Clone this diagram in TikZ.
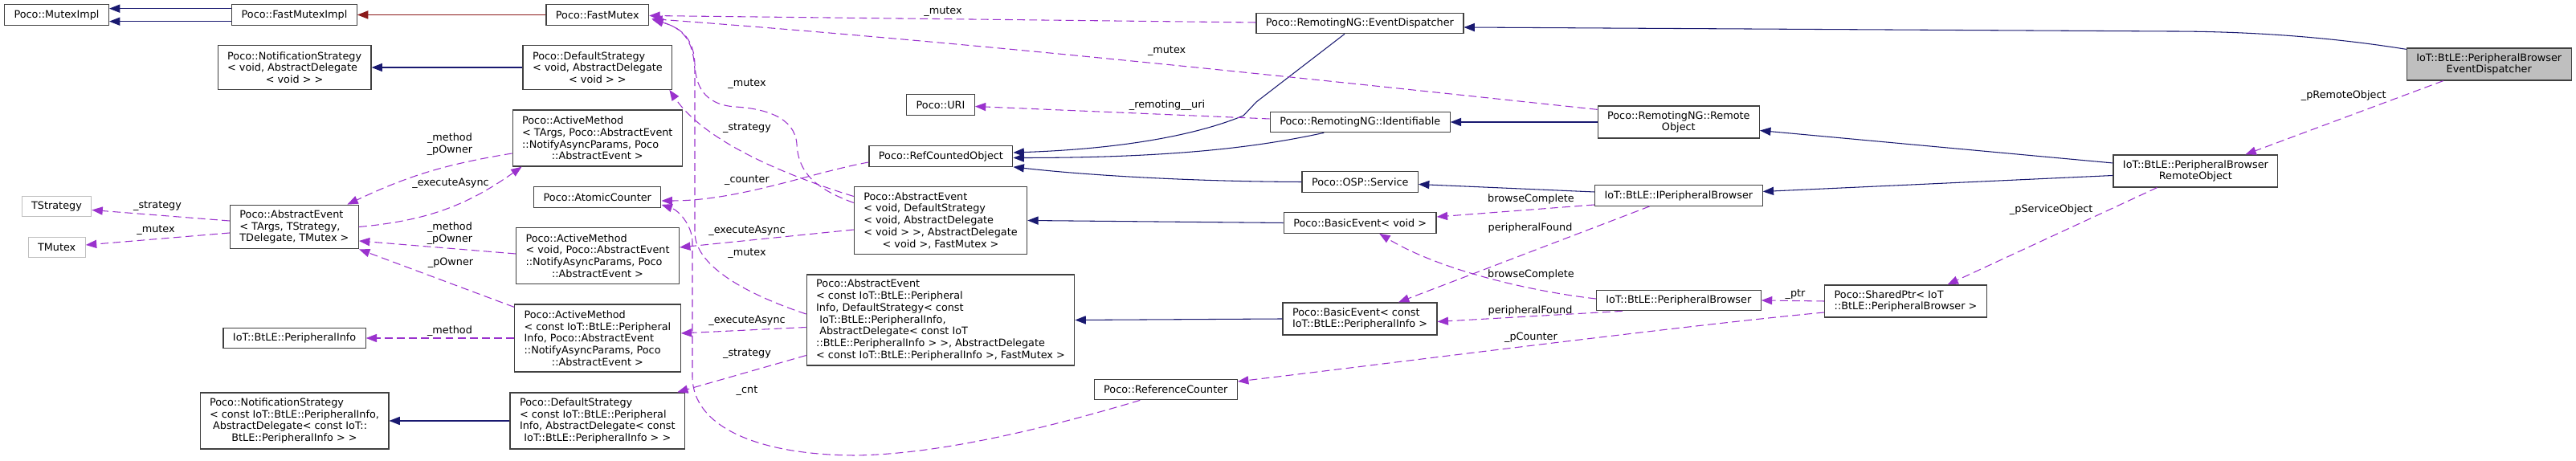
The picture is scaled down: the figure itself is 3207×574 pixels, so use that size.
\documentclass[tikz,border=0pt]{standalone}
\usepackage{fontspec}
\setmainfont{DejaVu Sans}
\usetikzlibrary{arrows.meta,calc}
\definecolor{inhblue}{HTML}{191970}
\definecolor{privred}{HTML}{8B1A1A}
\definecolor{usepurple}{HTML}{9A32CD}
\definecolor{boxline}{HTML}{404040}
\definecolor{boxgray}{HTML}{BFBFBF}
\newcommand\dfont{\fontsize{3.64pt}{4.18pt}\selectfont}
\newcommand\lastln[1]{\hfill#1\hfill\mbox{}}
\tikzset{cls/.style={draw=boxline,line width=0.35pt,fill=white,font=\dfont,align=left,inner xsep=3.4pt,inner ysep=0.5pt,minimum height=0.255cm},tmplcls/.style={cls,draw=boxgray},curcls/.style={cls,fill=boxgray},ln2/.style={minimum height=0.40cm},ln3/.style={minimum height=0.545cm},ln4/.style={minimum height=0.70cm},ln5/.style={minimum height=0.84cm},ln7/.style={minimum height=1.13cm},lbl/.style={font=\dfont,inner sep=0pt,align=center},inh/.style={-{Triangle[length=3.8pt,width=2.9pt]},line width=0.3pt,draw=inhblue},priv/.style={inh,draw=privred},usage/.style={inh,draw=usepurple,dash pattern=on 2.8pt off 1.5pt}}
\begin{document}
\begin{tikzpicture}[x=0.01cm,y=-0.01cm]
\useasboundingbox (0,0) rectangle (3207,574);
\node[cls] (mi) at (70.5,18.5) {Poco::MutexImpl};
\node[cls] (fmi) at (366.5,18.5) {Poco::FastMutexImpl};
\node[cls] (fm) at (743.8,18.5) {Poco::FastMutex};
\node[cls,ln3] (nsv) at (366.6,84) {Poco::NotificationStrategy\\< void, AbstractDelegate\\\lastln{< void > >}};
\node[cls,ln3] (dsv) at (743.9,84) {Poco::DefaultStrategy\\< void, AbstractDelegate\\\lastln{< void > >}};
\node[cls,ln4] (am1) at (743.8,172) {Poco::ActiveMethod\\< TArgs, Poco::AbstractEvent\\::NotifyAsyncParams, Poco\\\lastln{::AbstractEvent >}};
\node[tmplcls] (tstr) at (70.5,257) {TStrategy};
\node[cls,ln3] (ae) at (366.4,282.5) {Poco::AbstractEvent\\< TArgs, TStrategy,\\\lastln{TDelegate, TMutex >}};
\node[tmplcls] (tmx) at (70.7,308) {TMutex};
\node[cls] (ac) at (743.8,245.5) {Poco::AtomicCounter};
\node[cls,ln4] (am2) at (744,318.5) {Poco::ActiveMethod\\< void, Poco::AbstractEvent\\::NotifyAsyncParams, Poco\\\lastln{::AbstractEvent >}};
\node[cls,ln5] (am3) at (743.9,421) {Poco::ActiveMethod\\< const IoT::BtLE::Peripheral\\Info, Poco::AbstractEvent\\::NotifyAsyncParams, Poco\\\lastln{::AbstractEvent >}};
\node[cls] (pinfo) at (366.6,421) {IoT::BtLE::PeripheralInfo};
\node[cls,ln4] (nsc) at (366.5,524) {Poco::NotificationStrategy\\< const IoT::BtLE::PeripheralInfo,\\\ AbstractDelegate< const IoT::\\\lastln{BtLE::PeripheralInfo > >}};
\node[cls,ln4] (dsc) at (743.8,524) {Poco::DefaultStrategy\\< const IoT::BtLE::Peripheral\\Info, AbstractDelegate< const\\\lastln{IoT::BtLE::PeripheralInfo > >}};
\node[cls] (uri) at (1171,130.5) {Poco::URI};
\node[cls] (rco) at (1171.4,194.5) {Poco::RefCountedObject};
\node[cls,ln5] (aev) at (1171,274.5) {Poco::AbstractEvent\\< void, DefaultStrategy\\< void, AbstractDelegate\\< void > >, AbstractDelegate\\\lastln{< void >, FastMutex >}};
\node[cls,ln7] (aec) at (1171,398.5) {Poco::AbstractEvent\\< const IoT::BtLE::Peripheral\\Info, DefaultStrategy< const\\\ IoT::BtLE::PeripheralInfo,\\\ AbstractDelegate< const IoT\\::BtLE::PeripheralInfo > >, AbstractDelegate\\< const IoT::BtLE::PeripheralInfo >, FastMutex >};
\node[cls] (rc) at (1451.3,485) {Poco::ReferenceCounter};
\node[cls] (ed) at (1692.9,29) {Poco::RemotingNG::EventDispatcher};
\node[cls] (idf) at (1693.2,152) {Poco::RemotingNG::Identifiable};
\node[cls] (svc) at (1693.2,226.5) {Poco::OSP::Service};
\node[cls] (bev) at (1693.2,277.5) {Poco::BasicEvent< void >};
\node[cls,ln2] (bec) at (1693,397) {Poco::BasicEvent< const\\\lastln{IoT::BtLE::PeripheralInfo >}};
\node[cls,ln2] (ro) at (2089.8,152) {Poco::RemotingNG::Remote\\\lastln{Object}};
\node[cls] (ipb) at (2089.8,243.5) {IoT::BtLE::IPeripheralBrowser};
\node[cls] (pb) at (2089.8,374) {IoT::BtLE::PeripheralBrowser};
\node[cls,ln2] (pbro) at (2733.4,213) {IoT::BtLE::PeripheralBrowser\\\lastln{RemoteObject}};
\node[cls,ln2] (sp) at (2372.5,375) {Poco::SharedPtr< IoT\\::BtLE::PeripheralBrowser >};
\node[curcls,ln2] (main) at (3098.7,80) {IoT::BtLE::PeripheralBrowser\\\lastln{EventDispatcher}};
% base classes
\draw[inh] ($(fmi.west)+(0,-7.8)$) -- ($(mi.east)+(0,-7.8)$);
\draw[inh] ($(fmi.west)+(0,8.2)$) -- ($(mi.east)+(0,8.2)$);
\draw[priv] (fm.west) -- (fmi.east);
\draw[inh] (dsv.west) -- (nsv.east);\draw[inh] (dsc.west) -- (nsc.east);
\draw[inh] (bev.west) -- (aev.east);\draw[inh] (bec.west) -- (aec.east);
\draw[inh] (ro.west) -- (idf.east);
\draw[inh] ($(ipb.west)+(0,-4.5)$) -- ($(svc.east)+(0,3)$);
\draw[inh] ($(pbro.west)+(0,-10)$) -- ($(ro.east)+(0,10.5)$);
\draw[inh] ($(pbro.west)+(0,5.5)$) -- ($(ipb.east)+(0,-5)$);
\draw[inh] ($(main.north west)+(0,2)$) .. controls (2900,46) and (2800,39) .. (2700,39) -- ($(ed.east)+(0,5)$);
\draw[inh] ($(ed.south)+(-19,0)$) -- (1564,127) -- (1548,144) .. controls (1480,172) and (1380,186) .. ($(rco.east)+(0,-4.5)$);
\draw[inh] ($(idf.south)+(-45,0)$) .. controls (1580,180) and (1480,196.5) .. ($(rco.east)+(0,2)$);
\draw[inh] (svc.west) .. controls (1480,226) and (1350,218) .. (rco.south east);
% members
\draw[usage] ($(ae.west)+(0,-7.5)$) -- ($(tstr.east)+(0,4.5)$);
\draw[usage] ($(ae.west)+(0,7.5)$) -- ($(tmx.east)+(0,-3)$);
\draw[usage] ($(am1.west)+(0,19)$) to[bend right=8] ($(ae.north)+(66,0)$);
\draw[usage] (ae.east) to[bend right=15] ($(am1.south west)+(12,0)$);
\draw[usage] ($(am2.west)+(0,-2.5)$) -- ($(ae.east)+(0,17.5)$);
\draw[usage] ($(am3.north west)+(0,4)$) -- (ae.south east);
\draw[usage] (am3.west) -- (pinfo.east);
\draw[usage] ($(ed.west)+(0,-1)$) -- ($(fm.east)+(0,1)$);
\draw[usage] ($(ro.north west)+(0,5)$) .. controls (1600,95) and (1200,52) .. ($(fm.east)+(3,5)$);
\draw[usage] ($(aev.west)+(0,-22)$) .. controls (1015,235) and (994,215) .. (992,180) .. controls (990,145) and (950,135) .. (915,133) .. controls (875,130) and (866,105) .. (865,80) .. controls (864,50) and (850,35) .. ($(fm.east)+(4,6)$);
\draw[usage] ($(aec.west)+(0,-7.5)$) .. controls (940,370) and (866,335) .. (865,290) -- (865,90) .. controls (864,50) and (850,35) .. ($(fm.east)+(4,6)$);
\draw[usage] ($(rc.south)+(-32,0)$) .. controls (1330,525) and (1180,566) .. (1063,567) .. controls (940,566) and (863,530) .. (862,470) -- (862,300) .. controls (861,280) and (845,262) .. ($(ac.south east)+(0,-4)$);
\draw[usage] ($(rco.west)+(0,7.5)$) .. controls (1010,215) and (920,250) .. ($(ac.east)+(0,4.5)$);
\draw[usage] ($(aev.west)+(0,-30)$) .. controls (990,222) and (880,180) .. ($(dsv.south east)+(-4,0)$);
\draw[usage] ($(aev.west)+(0,11.5)$) -- ($(am2.east)+(0,-10.5)$);
\draw[usage] ($(aec.west)+(0,9)$) -- ($(am3.east)+(0,-6)$);
\draw[usage] ($(aec.west)+(0,44)$) -- ($(dsc.north east)+(-10,0)$);
\draw[usage] ($(idf.west)+(0,-4)$) -- ($(uri.east)+(0,2)$);
\draw[usage] ($(ipb.west)+(0,11.5)$) -- ($(bev.east)+(0,-7.5)$);
\draw[usage] ($(ipb.south)+(-36,0)$) -- ($(bec.north)+(48,0)$);
\draw[usage] ($(pb.west)+(0,-2)$) .. controls (1900,362) and (1790,335) .. ($(bev.south)+(24,0)$);
\draw[usage] ($(pb.south west)+(33,0)$) -- ($(bec.east)+(0,3.5)$);
\draw[usage] (sp.west) -- (pb.east);
\draw[usage] ($(sp.west)+(0,14)$) .. controls (2100,405) and (1750,450) .. ($(rc.east)+(0,-10)$);
\draw[usage] ($(pbro.south)+(-48,0)$) -- ($(sp.north)+(52,0)$);
\draw[usage] ($(main.south)+(-57,0)$) -- ($(pbro.north)+(62,0)$);
% member names
\node[lbl] (tStratLbl) at (196,257) {\_strategy};
\node[lbl] (tMutexLbl) at (194,287) {\_mutex};
\node[lbl] (ownerLblA) at (560,179.5) {\_method\\\_pOwner};
\node[lbl] (asyncLblA) at (561,228) {\_executeAsync};
\node[lbl] (ownerLblB) at (560,290.5) {\_method\\\_pOwner};
\node[lbl] (ownerLblC) at (561,327) {\_pOwner};
\node[lbl] (methodLbl) at (560,412) {\_method};
\node[lbl] (mutexLblA) at (930,105) {\_mutex};
\node[lbl] (stratLblA) at (930,160) {\_strategy};
\node[lbl] (counterLbl) at (930,225) {\_counter};
\node[lbl] (asyncLblB) at (930,287) {\_executeAsync};
\node[lbl] (mutexLblB) at (930,315.7) {\_mutex};
\node[lbl] (asyncLblC) at (930,399) {\_executeAsync};
\node[lbl] (stratLblB) at (930,441) {\_strategy};
\node[lbl] (cntLbl) at (930,486.7) {\_cnt};
\node[lbl] (mutexLblC) at (1174,15) {\_mutex};
\node[lbl] (mutexLblD) at (1452.6,63.5) {\_mutex};
\node[lbl] (uriLbl) at (1453,130.7) {\_remoting\_\_uri};
\node[lbl] (browseLblA) at (1906,248) {browseComplete};
\node[lbl] (foundLblA) at (1905,283.7) {peripheralFound};
\node[lbl] (browseLblB) at (1906,342) {browseComplete};
\node[lbl] (foundLblB) at (1905,387.3) {peripheralFound};
\node[lbl] (pCounterLbl) at (1906,420.7) {\_pCounter};
\node[lbl] (ptrLbl) at (2235,366.7) {\_ptr};
\node[lbl] (svcObjLbl) at (2553.7,260.7) {\_pServiceObject};
\node[lbl] (remObjLbl) at (2917.7,119.3) {\_pRemoteObject};
\end{tikzpicture}
\end{document}
